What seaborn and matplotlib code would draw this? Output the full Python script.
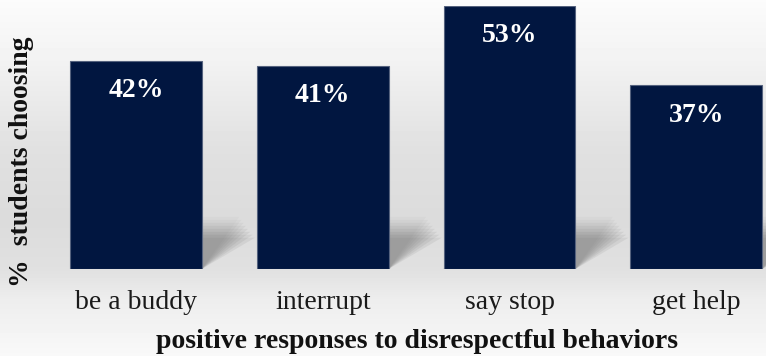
import numpy as np
import matplotlib
matplotlib.use("Agg")
import matplotlib.pyplot as plt
import seaborn as sns
from matplotlib.patches import Polygon

categories = ["be a buddy", "interrupt", "say stop", "get help"]
values = [42, 41, 53, 37]
value_labels = ["42%", "41%", "53%", "37%"]
x_title = "positive responses to disrespectful behaviors"
y_title = "%  students choosing"

sns.set_theme(style="white")
plt.rcParams["font.family"] = ["Liberation Serif", "DejaVu Serif"]

W, H = 766, 356
fig = plt.figure(figsize=(W / 100, H / 100), dpi=100)

# background gradient
bg = fig.add_axes([0, 0, 1, 1], zorder=0)
ys = np.linspace(0, 1, 356)  # 0 top -> 1 bottom
prof = np.interp(ys * 356, [0, 60, 150, 220, 270, 300, 356],
                 [0.985, 0.95, 0.88, 0.86, 0.88, 0.93, 0.975])
img = np.repeat(prof[:, None], 10, axis=1)
bg.imshow(img, cmap="gray", vmin=0, vmax=1, aspect="auto", extent=[0, 1, 0, 1], origin="upper")
bg.axis("off")

ax = fig.add_axes([30 / W, (H - 269) / H, 736 / W, 263 / H], zorder=1)
ax.patch.set_alpha(0)
sns.barplot(x=categories, y=values, color="#011640", saturation=1, width=0.706,
            edgecolor="#55627e", linewidth=0.8, ax=ax, zorder=3)
ax.set_xlim(-0.567, 3.373)
ax.set_ylim(0, 53)

# perspective shadows behind bars
for p in ax.patches[:len(values)]:
    x0 = p.get_x()
    w = p.get_width()
    for k, a in zip(range(8), [0.03, 0.04, 0.05, 0.06, 0.07, 0.08, 0.08, 0.08]):
        dx = 0.2 + 0.012 * k
        hs = 10.5 - 0.6 * k
        poly = Polygon([[x0, 0], [x0 + w, 0], [x0 + w + dx, hs], [x0 + dx, hs]],
                       closed=True, facecolor="#404040", edgecolor="none", alpha=a, zorder=2)
        ax.add_patch(poly)

for i, (v, lab) in enumerate(zip(values, value_labels)):
    ax.annotate(lab, (i, v), xytext=(0, -21.5), textcoords="offset points",
                ha="center", va="center", color="white", fontsize=20, fontweight="bold")

ax.set_yticks([])
ax.tick_params(axis="x", length=0, pad=15, labelsize=20, labelcolor="#1a1a1a")
for s in ax.spines.values():
    s.set_visible(False)
ax.set_xlabel("")
ax.set_ylabel("")

fig.text(417 / W, 1 - 342 / H, x_title, ha="center", va="center",
         fontsize=20, fontweight="bold", color="#111111")
fig.text(22 / W, 1 - 162 / H, y_title, ha="center", va="center", rotation=90,
         fontsize=20, fontweight="bold", color="#111111")

fig.savefig("out.png", dpi=100)
